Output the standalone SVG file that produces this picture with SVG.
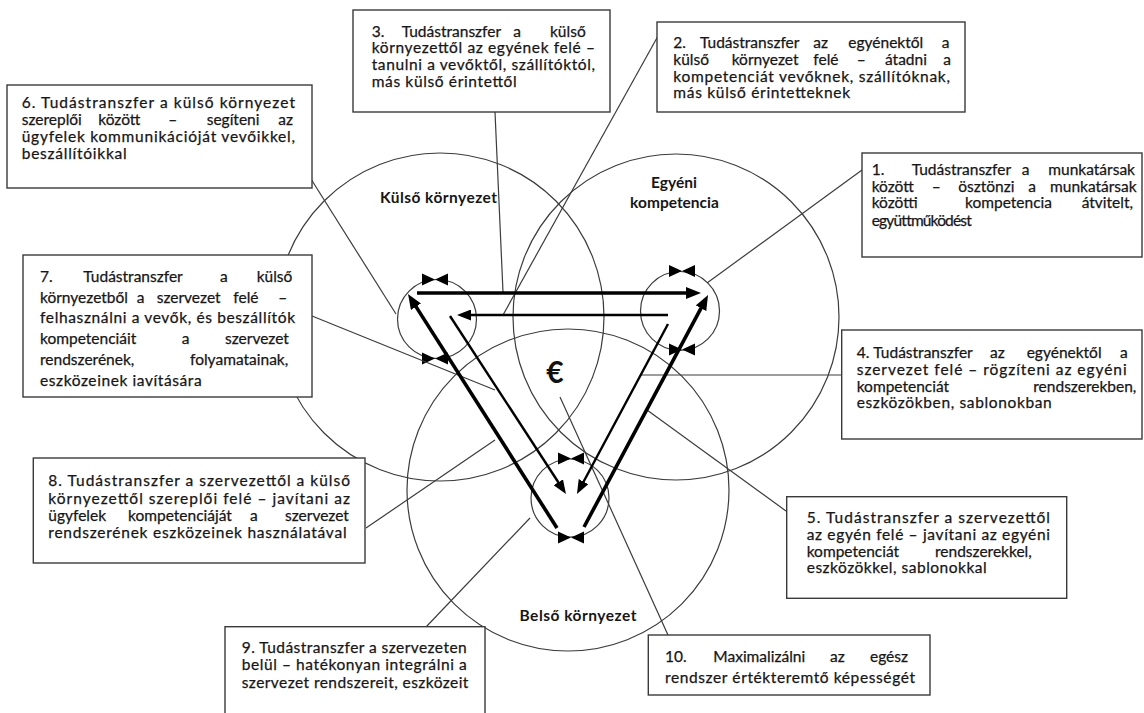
<svg xmlns="http://www.w3.org/2000/svg" width="1144" height="713" viewBox="0 0 1144 713">
<style>
.ring{fill:none;stroke:#3c3c3c;stroke-width:1.2}
.conn{stroke:#3c3c3c;stroke-width:1.2;fill:none}
.heavy{stroke:#000;stroke-width:3.6;fill:none;marker-end:url(#headL)}
.light{stroke:#000;stroke-width:2.4;fill:none;marker-end:url(#headS)}
.box{fill:#fff;stroke:#3a3a3a;stroke-width:1.4}
.t{font-family:Lato,"Liberation Sans",sans-serif;font-size:15.5px;fill:#161616;stroke:#161616;stroke-width:0.25}
.lbl{font-family:Lato,"Liberation Sans",sans-serif;font-size:15.5px;font-weight:bold;fill:#161616;text-anchor:middle}
</style>
<defs>
<marker id="headL" markerUnits="userSpaceOnUse" markerWidth="15" markerHeight="12" refX="9" refY="6" orient="auto">
<path d="M0,0 L15,6 L0,12 z" fill="#000"/>
</marker>
<marker id="headS" markerUnits="userSpaceOnUse" markerWidth="14" markerHeight="11" refX="8" refY="5.5" orient="auto">
<path d="M0,0 L14,5.5 L0,11 z" fill="#000"/>
</marker>
<g id="bowtie">
<path d="M-13,-6 L0,0 L-13,6 z M13,-6 L0,0 L13,6 z" fill="#000"/>
</g>
</defs>
<rect width="1144" height="713" fill="#fff"/>

<!-- three overlapping domains -->
<g id="domains">
<circle class="ring" cx="440" cy="317" r="164"/>
<circle class="ring" cx="676" cy="317" r="163"/>
<circle class="ring" cx="568" cy="490" r="161"/>
</g>

<!-- small cycles at the triangle corners -->
<g id="cycles">
<circle class="ring" cx="437" cy="319" r="39.5"/>
<circle class="ring" cx="680" cy="311" r="39.5"/>
<circle class="ring" cx="570" cy="498" r="39"/>
<use href="#bowtie" x="435" y="279.5"/>
<use href="#bowtie" x="435" y="358.5"/>
<use href="#bowtie" x="682" y="271"/>
<use href="#bowtie" x="682" y="349.5"/>
<use href="#bowtie" x="571" y="458.5"/>
<use href="#bowtie" x="571" y="537.5"/>
</g>

<!-- leader lines from the text boxes -->
<g id="connectors">
<line class="conn" x1="311" y1="179" x2="396" y2="314"/>
<line class="conn" x1="495" y1="112" x2="503" y2="292"/>
<line class="conn" x1="658" y1="36" x2="503" y2="315"/>
<line class="conn" x1="862" y1="170" x2="707" y2="283"/>
<line class="conn" x1="312" y1="316" x2="495" y2="390"/>
<line class="conn" x1="366" y1="528" x2="495" y2="440"/>
<line class="conn" x1="841" y1="375" x2="640" y2="375"/>
<line class="conn" x1="786" y1="511" x2="647" y2="410"/>
<line class="conn" x1="426" y1="627" x2="530" y2="518"/>
<line class="conn" x1="668" y1="635" x2="560" y2="397"/>
</g>

<!-- transfer arrows -->
<g id="arrows">
<line class="heavy" x1="417" y1="293" x2="695" y2="293"/>
<line class="heavy" x1="557" y1="528" x2="411.2" y2="299.1"/>
<line class="heavy" x1="584" y1="527" x2="705.2" y2="300.3"/>
<line class="light" x1="668" y1="315" x2="463" y2="315"/>
<line class="light" x1="450" y1="316" x2="562.7" y2="489"/>
<line class="light" x1="668" y1="324" x2="579.8" y2="488.7"/>
<text x="555" y="383" font-family="Lato,'Liberation Sans',sans-serif" font-size="30" font-weight="bold" text-anchor="middle" fill="#111">€</text>
</g>

<g id="labels">
<text class="lbl" x="438.5" y="203.3" textLength="117" lengthAdjust="spacing">Külső környezet</text>
<text class="lbl" x="674" y="188.3">Egyéni</text>
<text class="lbl" x="674.5" y="208.3">kompetencia</text>
<text class="lbl" x="578" y="621" textLength="117" lengthAdjust="spacing">Belső környezet</text>
</g>

<g id="box1">
<rect class="box" x="862" y="153" width="280" height="104"/>
<text class="t" y="175"><tspan x="871.7">1.</tspan><tspan x="911.7">Tudástranszfer</tspan><tspan x="1021.7">a</tspan><tspan x="1048.3">munkatársak</tspan></text>
<text class="t" y="191.7"><tspan x="871.7">között</tspan><tspan x="931.7">–</tspan><tspan x="958.3">ösztönzi</tspan><tspan x="1028.3">a</tspan><tspan x="1050">munkatársak</tspan></text>
<text class="t" y="208.3"><tspan x="871.7">közötti</tspan><tspan x="965">kompetencia</tspan><tspan x="1081.7">átvitelt,</tspan></text>
<text class="t" x="871.7" y="225.5" textLength="100" lengthAdjust="spacing">együttműködést</text>
</g>

<g id="box2">
<rect class="box" x="657" y="22" width="308" height="90"/>
<text class="t" y="48.3"><tspan x="673.3">2.</tspan><tspan x="700">Tudástranszfer</tspan><tspan x="813.3">az</tspan><tspan x="848.3">egyénektől</tspan><tspan x="941.7">a</tspan></text>
<text class="t" y="65"><tspan x="673.3">külső</tspan><tspan x="731.7">környezet</tspan><tspan x="813.3">felé</tspan><tspan x="856.7">–</tspan><tspan x="885">átadni</tspan><tspan x="943.3">a</tspan></text>
<text class="t" x="673.3" y="81.7" textLength="276.7" lengthAdjust="spacing">kompetenciát vevőknek, szállítóknak,</text>
<text class="t" x="673.3" y="98.3" textLength="176.7" lengthAdjust="spacing">más külső érintetteknek</text>
</g>

<g id="box3">
<rect class="box" x="353" y="10" width="257" height="102"/>
<text class="t" y="36.5"><tspan x="371.7">3.</tspan><tspan x="401.7">Tudástranszfer</tspan><tspan x="513.3">a</tspan><tspan x="550">külső</tspan></text>
<text class="t" x="371.7" y="53.3" textLength="223.3" lengthAdjust="spacing">környezettől az egyének felé –</text>
<text class="t" x="371.7" y="70.1" textLength="223.3" lengthAdjust="spacing">tanulni a vevőktől, szállítóktól,</text>
<text class="t" x="371.7" y="86.9" textLength="145" lengthAdjust="spacing">más külső érintettől</text>
</g>

<g id="box4">
<rect class="box" x="841.7" y="330" width="300.3" height="109"/>
<text class="t" y="358.3"><tspan x="856.7">4.</tspan><tspan x="873.3">Tudástranszfer</tspan><tspan x="990">az</tspan><tspan x="1026.7">egyénektől</tspan><tspan x="1120">a</tspan></text>
<text class="t" x="856.7" y="375" textLength="270" lengthAdjust="spacing">szervezet felé – rögzíteni az egyéni</text>
<text class="t" y="391.7"><tspan x="856.7">kompetenciát</tspan><tspan x="1033.3">rendszerekben,</tspan></text>
<text class="t" x="856.7" y="408.3" textLength="195" lengthAdjust="spacing">eszközökben, sablonokban</text>
</g>

<g id="box5">
<rect class="box" x="786.7" y="496.7" width="280" height="101.6"/>
<text class="t" x="806.7" y="523.3" textLength="243.3" lengthAdjust="spacing">5. Tudástranszfer a szervezettől</text>
<text class="t" x="806.7" y="540" textLength="243.3" lengthAdjust="spacing">az egyén felé – javítani az egyéni</text>
<text class="t" y="556.7"><tspan x="806.7">kompetenciát</tspan><tspan x="935">rendszerekkel,</tspan></text>
<text class="t" x="806.7" y="573.3" textLength="180" lengthAdjust="spacing">eszközökkel, sablonokkal</text>
</g>

<g id="box6">
<rect class="box" x="7" y="85" width="305" height="103"/>
<text class="t" x="21.7" y="108.3" textLength="273.3" lengthAdjust="spacing">6. Tudástranszfer a külső környezet</text>
<text class="t" y="125"><tspan x="21.7">szereplői</tspan><tspan x="98.3">között</tspan><tspan x="168.3">–</tspan><tspan x="206.7">segíteni</tspan><tspan x="278.3">az</tspan></text>
<text class="t" x="21.7" y="141.7" textLength="273.3" lengthAdjust="spacing">ügyfelek kommunikációját vevőikkel,</text>
<text class="t" x="21.7" y="158.5" textLength="105" lengthAdjust="spacing">beszállítóikkal</text>
</g>

<g id="box7">
<rect class="box" x="23" y="255" width="289" height="142"/>
<text class="t" y="282"><tspan x="40">7.</tspan><tspan x="83.3">Tudástranszfer</tspan><tspan x="220">a</tspan><tspan x="256.7">külső</tspan></text>
<text class="t" y="302.7"><tspan x="40">környezetből</tspan><tspan x="136.7">a</tspan><tspan x="156.7">szervezet</tspan><tspan x="233.3">felé</tspan><tspan x="278.3">–</tspan></text>
<text class="t" x="40" y="323.4" textLength="255" lengthAdjust="spacing">felhasználni a vevők, és beszállítók</text>
<text class="t" y="344"><tspan x="40">kompetenciáit</tspan><tspan x="181.7">a</tspan><tspan x="225">szervezet</tspan></text>
<text class="t" y="364.8"><tspan x="40">rendszerének,</tspan><tspan x="190">folyamatainak,</tspan></text>
<text class="t" x="40" y="385.5" textLength="161.7" lengthAdjust="spacing">eszközeinek iavítására</text>
</g>

<g id="box8">
<rect class="box" x="33.3" y="458" width="331.7" height="105"/>
<text class="t" x="48.3" y="486.3" textLength="301.7" lengthAdjust="spacing">8. Tudástranszfer a szervezettől a külső</text>
<text class="t" x="48.3" y="503.5" textLength="301.7" lengthAdjust="spacing">környezettől szereplői felé – javítani az</text>
<text class="t" y="521"><tspan x="48.3">ügyfelek</tspan><tspan x="128">kompetenciáját</tspan><tspan x="250">a</tspan><tspan x="285">szervezet</tspan></text>
<text class="t" x="48.3" y="538.3" textLength="298.3" lengthAdjust="spacing">rendszerének eszközeinek használatával</text>
</g>

<g id="box9">
<rect class="box" x="225" y="626.7" width="260" height="95"/>
<text class="t" x="241.7" y="653.3" textLength="225" lengthAdjust="spacing">9. Tudástranszfer a szervezeten</text>
<text class="t" x="241.7" y="670" textLength="225" lengthAdjust="spacing">belül – hatékonyan integrálni a</text>
<text class="t" x="241.7" y="688.3" textLength="226.7" lengthAdjust="spacing">szervezet rendszereit, eszközeit</text>
</g>

<g id="box10">
<rect class="box" x="648.3" y="635" width="281.7" height="60"/>
<text class="t" y="661.7"><tspan x="665">10.</tspan><tspan x="713.3">Maximalizálni</tspan><tspan x="830">az</tspan><tspan x="870">egész</tspan></text>
<text class="t" x="665" y="683.3" textLength="250" lengthAdjust="spacing">rendszer értékteremtő képességét</text>
</g>
</svg>
